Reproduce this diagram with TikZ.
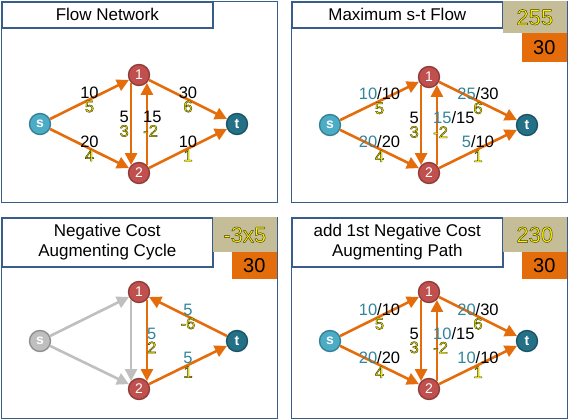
\documentclass[tikz,border=0pt]{standalone}
\usepackage{fontspec}
\setmainfont{Liberation Sans}
\usetikzlibrary{arrows.meta}
\definecolor{flame}{RGB}{228,108,10}
\definecolor{navy}{RGB}{56,93,138}
\definecolor{sand}{RGB}{196,189,151}
\definecolor{sea}{RGB}{49,133,156}
\definecolor{wine}{RGB}{192,80,77}
\definecolor{sky}{RGB}{75,172,198}
\definecolor{deep}{RGB}{36,112,134}
\definecolor{mist}{RGB}{191,191,191}
% yellow glyphs with a dark rim
\newcommand{\yel}[1]{{\color{yellow}\special{pdf:literal direct 0.25 0.25 0.05 RG 0.45 w 2 Tr}#1\special{pdf:literal direct 0 Tr}}}
\newcommand{\flw}[1]{\textcolor{sea}{#1}}
\tikzset{
  >={Triangle[length=12pt,width=12pt]},
  panel/.style={draw=navy,line width=0.8pt},
  title/.style={draw=navy,fill=white,line width=1.6pt,anchor=north west,
    minimum width=211pt,align=center,font=\fontsize{17}{20}\selectfont},
  total/.style={fill=sand,anchor=north east,minimum width=64pt,
    font=\fontsize{22}{22}\selectfont},
  capbox/.style={fill=flame,anchor=north east,minimum width=45pt,
    font=\fontsize{20}{20}\selectfont},
  vtx/.style={circle,fill=#1,draw=#1!75!black,line width=1.4pt,minimum size=21pt,
    inner sep=0pt,text=white,font=\fontsize{14}{14}\selectfont},
  vtx/.default=wine,
  flow/.style={->,line width=2.6pt,draw=#1},
  flow/.default=flame,
  lbl/.style={align=center,inner sep=0pt,font=\fontsize{16.5}{14}\selectfont},
}

\begin{document}
\begin{tikzpicture}[x=1pt,y=-1pt]
  \useasboundingbox (0,0) rectangle (568,420);
  % flow network
  \begin{scope}
    \draw[panel] (1,1) rectangle (277,202);
    \node[title,minimum height=26pt] (ttl-a) at (1,1) {Flow Network};
    \node[vtx=sky] (s-a) at (40,124) {\bfseries s};
    \node[vtx] (u-a) at (139,75) {1};
    \node[vtx] (w-a) at (139,173) {2};
    \node[vtx=deep] (t-a) at (237,124) {\bfseries t};
    \draw[flow] (s-a) -- node[lbl] {10\\\yel{5}} (u-a);
    \draw[flow] (s-a) -- node[lbl] {20\\\yel{4}} (w-a);
    \draw[flow] (u-a) -- node[lbl] {30\\\yel{6}} (t-a);
    \draw[flow] (w-a) -- node[lbl] {10\\\yel{1}} (t-a);
    \draw[flow] (u-a.-135) -- node[lbl,left=1pt,align=right] {5\\\yel{3}} (w-a.135);
    \draw[flow] (w-a.45) -- node[lbl,right=-5pt,align=left] {15\\\yel{-2}} (u-a.-45);
  \end{scope}
  % maximum flow
  \begin{scope}[shift={(290,0)}]
    \draw[panel] (1,1) rectangle (277,202);
    \node[title,minimum height=26pt] (ttl-b) at (1,1) {Maximum s-t Flow};
    \node[total,minimum height=32pt] (sum-b) at (277,1) {\yel{255}};
    \node[capbox,minimum height=29pt] (cap-b) at (277,33) {30};
    \node[vtx=sky] (s-b) at (40,125) {\bfseries s};
    \node[vtx] (u-b) at (139,77) {1};
    \node[vtx] (w-b) at (139,173) {2};
    \node[vtx=deep] (t-b) at (237,125) {\bfseries t};
    \draw[flow] (s-b) -- node[lbl] {\flw{10}/10\\\yel{5}} (u-b);
    \draw[flow] (s-b) -- node[lbl] {\flw{20}/20\\\yel{4}} (w-b);
    \draw[flow] (u-b) -- node[lbl] {\flw{25}/30\\\yel{6}} (t-b);
    \draw[flow] (w-b) -- node[lbl] {\flw{5}/10\\\yel{1}} (t-b);
    \draw[flow] (u-b.-135) -- node[lbl,left=1pt,align=right] {5\\\yel{3}} (w-b.135);
    \draw[flow] (w-b.45) -- node[lbl,right=-5pt,align=left] {\flw{15}/15\\\yel{-2}} (u-b.-45);
  \end{scope}
  % negative cycle
  \begin{scope}[shift={(0,216)}]
    \draw[panel] (1,1) rectangle (277,202);
    \node[title,minimum height=49pt] (ttl-c) at (1,1) {Negative Cost\\Augmenting Cycle};
    \node[total,minimum height=35pt] (sum-c) at (277,1) {\yel{-3x5}};
    \node[capbox,minimum height=27pt] (cap-c) at (277,36) {30};
    \node[vtx=mist] (s-c) at (40,125) {\bfseries s};
    \node[vtx] (u-c) at (139,76) {1};
    \node[vtx] (w-c) at (139,173) {2};
    \node[vtx=deep] (t-c) at (237,125) {\bfseries t};
    \draw[flow=mist] (s-c) -- (u-c);
    \draw[flow=mist] (s-c) -- (w-c);
    \draw[flow=mist] (u-c.-135) -- (w-c.135);
    \draw[flow] (u-c.-45) -- node[lbl,right=-1pt] {\flw{5}\\\yel{2}} (w-c.45);
    \draw[flow] (w-c) -- node[lbl] {\flw{5}\\\yel{1}} (t-c);
    \draw[flow] (t-c) -- node[lbl] {\flw{5}\\\yel{-6}} (u-c);
  \end{scope}
  % first augmenting path
  \begin{scope}[shift={(290,216)}]
    \draw[panel] (1,1) rectangle (277,202);
    \node[title,minimum height=49pt] (ttl-d) at (1,1) {add 1st Negative Cost\\Augmenting Path};
    \node[total,minimum height=35pt] (sum-d) at (277,1) {\yel{230}};
    \node[capbox,minimum height=27pt] (cap-d) at (277,36) {30};
    \node[vtx=sky] (s-d) at (40,125) {\bfseries s};
    \node[vtx] (u-d) at (139,76) {1};
    \node[vtx] (w-d) at (139,173) {2};
    \node[vtx=deep] (t-d) at (237,125) {\bfseries t};
    \draw[flow] (s-d) -- node[lbl] {\flw{10}/10\\\yel{5}} (u-d);
    \draw[flow] (s-d) -- node[lbl] {\flw{20}/20\\\yel{4}} (w-d);
    \draw[flow] (u-d) -- node[lbl] {\flw{20}/30\\\yel{6}} (t-d);
    \draw[flow] (w-d) -- node[lbl] {\flw{10}/10\\\yel{1}} (t-d);
    \draw[flow] (u-d.-135) -- node[lbl,left=1pt,align=right] {5\\\yel{3}} (w-d.135);
    \draw[flow] (w-d.45) -- node[lbl,right=-5pt,align=left] {\flw{10}/15\\\yel{-2}} (u-d.-45);
  \end{scope}
\end{tikzpicture}
\end{document}
